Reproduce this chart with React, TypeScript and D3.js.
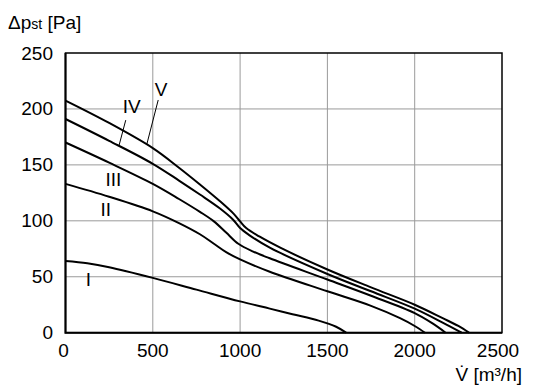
import React, { useEffect, useRef } from 'react';
import * as d3 from 'd3';

// fan curves I..V, volume flow [m3/h] vs static pressure [Pa]
const curveNames = ['I', 'II', 'III', 'IV', 'V'];

const curveI: [number, number][] = [
  [0, 64], [125, 62], [250, 58.5], [500, 49], [750, 38.5], [1000, 28], [1170, 21.5],
  [1300, 16.5], [1450, 10.8], [1550, 5.3], [1607, 0]
];
const curveII: [number, number][] = [
  [0, 133], [250, 121.5], [500, 108.5], [650, 98], [770, 88], [850, 79.5],
  [920, 72], [1000, 65.5], [1170, 54.5], [1500, 37], [1750, 24], [1916, 13],
  [2000, 6], [2059, 0]
];
const curveIII: [number, number][] = [
  [0, 170], [250, 152], [500, 133], [650, 119.5], [770, 108], [850, 99.5],
  [920, 89.5], [990, 79.5], [1075, 72.5], [1170, 66.5], [1500, 47.5],
  [1750, 33], [2000, 17.5], [2100, 8.5], [2177, 0]
];
const curveIV: [number, number][] = [
  [0, 191], [250, 171.5], [500, 151], [650, 136], [770, 123.5], [885, 111],
  [960, 101], [1000, 93.5], [1050, 87.5], [1170, 76], [1500, 52.5], [1750, 37],
  [2000, 21.5], [2160, 9], [2269, 0]
];
const curveV: [number, number][] = [
  [0, 207.5], [250, 187.5], [500, 165], [650, 147.5], [770, 132.5], [885, 117.5],
  [965, 106], [1000, 99.5], [1035, 93.5], [1110, 86], [1230, 76], [1500, 56.5],
  [1750, 40.5], [2000, 25], [2160, 13], [2250, 6], [2311, 0]
];
const curves = [curveI, curveII, curveIII, curveIV, curveV];

// label anchor [v, p] and optional leader line [v1, p1, v2, p2]
const labelPos: [number, number][] = [
  [131, 47.8], [230, 110], [274, 136.6], [379, 202], [547, 217]
];
const leaders: ([number, number, number, number] | null)[] = [
  null, null, null, [345, 190, 306, 167], [531, 208, 465, 168]
];

const xTicks = [0, 500, 1000, 1500, 2000, 2500];
const yTicks = [0, 50, 100, 150, 200, 250];

const width = 536;
const height = 388;
const margin = { top: 53, right: 34, bottom: 55.3, left: 65.5 };
const font = '"Liberation Sans", Arial, sans-serif';

const FanChart = () => {
  const rootRef = useRef<SVGSVGElement>(null);

  useEffect(() => {
    const svg = d3.select(rootRef.current).attr('width', width).attr('height', height);
    svg.selectAll('*').remove();

    const x = d3.scaleLinear().domain([0, 2500]).range([margin.left, width - margin.right]);
    const y = d3.scaleLinear().domain([0, 250]).range([height - margin.bottom, margin.top]);

    svg.append('rect').attr('width', width).attr('height', height).attr('fill', 'white');

    // grid
    const grid = svg.append('g').attr('stroke', '#9a9a9a').attr('stroke-width', 1);
    xTicks.slice(1, -1).forEach((t) => {
      grid.append('line')
        .attr('x1', x(t)).attr('x2', x(t))
        .attr('y1', y(0)).attr('y2', y(250));
    });
    yTicks.slice(1, -1).forEach((t) => {
      grid.append('line')
        .attr('x1', x(0)).attr('x2', x(2500))
        .attr('y1', y(t)).attr('y2', y(t));
    });

    // frame
    svg.append('rect')
      .attr('x', x(0)).attr('y', y(250))
      .attr('width', x(2500) - x(0)).attr('height', y(0) - y(250))
      .attr('fill', 'none').attr('stroke', '#000').attr('stroke-width', 1.5);
    svg.append('path')
      .attr('d', `M${x(0)},${y(250)}V${y(0)}H${x(2500)}`)
      .attr('fill', 'none').attr('stroke', '#000').attr('stroke-width', 2);

    // curves
    const line = d3.line<[number, number]>()
      .x((d) => x(d[0]))
      .y((d) => y(d[1]))
      .curve(d3.curveCatmullRom.alpha(0.5));
    curves.forEach((c) => {
      svg.append('path')
        .attr('d', line(c))
        .attr('fill', 'none')
        .attr('stroke', '#000')
        .attr('stroke-width', 2);
    });

    // curve labels
    curveNames.forEach((name, i) => {
      const [lv, lp] = labelPos[i];
      svg.append('text')
        .attr('x', x(lv)).attr('y', y(lp))
        .attr('text-anchor', 'middle')
        .attr('dominant-baseline', 'central')
        .attr('font-family', font)
        .attr('font-size', 19)
        .text(name);
      const l = leaders[i];
      if (l) {
        svg.append('line')
          .attr('x1', x(l[0])).attr('y1', y(l[1]))
          .attr('x2', x(l[2])).attr('y2', y(l[3]))
          .attr('stroke', '#000').attr('stroke-width', 1);
      }
    });

    // tick labels
    svg.append('g').selectAll('text').data(yTicks).enter().append('text')
      .attr('x', x(0) - 12.5)
      .attr('y', (d) => y(d))
      .attr('text-anchor', 'end')
      .attr('dominant-baseline', 'central')
      .attr('font-family', font)
      .attr('font-size', 19)
      .text((d) => d);
    svg.append('g').selectAll('text').data(xTicks).enter().append('text')
      .attr('x', (d) => x(d) + (d === 2500 ? -4 : d === 0 ? -2 : 0))
      .attr('y', y(0) + 24.5)
      .attr('text-anchor', 'middle')
      .attr('font-family', font)
      .attr('font-size', 19)
      .text((d) => d);

    // axis titles
    const yTitle = svg.append('text')
      .attr('x', 8).attr('y', 29)
      .attr('font-family', font)
      .attr('font-size', 19);
    yTitle.append('tspan').text('\u0394p');
    yTitle.append('tspan').attr('font-size', 14).text('st');
    yTitle.append('tspan').text(' [Pa]');

    svg.append('text')
      .attr('x', 522).attr('y', 381)
      .attr('text-anchor', 'end')
      .attr('font-family', font)
      .attr('font-size', 19)
      .text('V\u0307 [m\u00b3/h]');
  }, []);

  return <svg ref={rootRef} style={{ position: 'absolute', left: 0, top: 0 }}></svg>;
};

export default function App() {
  return <FanChart />;
}
